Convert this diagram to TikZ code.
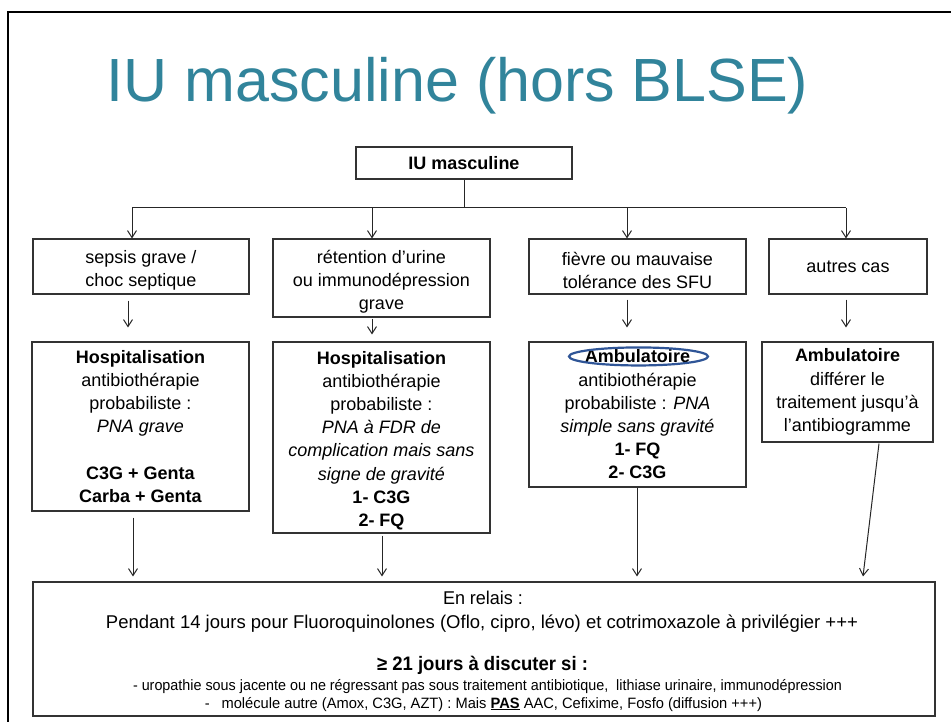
\documentclass[tikz,border=0pt]{standalone}
\usepackage{fontspec}
\setmainfont{Liberation Sans}
\usepackage{graphicx}
\usetikzlibrary{arrows.meta}
\definecolor{titleblue}{RGB}{49,132,155}
\definecolor{ovalblue}{RGB}{47,85,151}
\newcommand{\lowr}[1]{\rule{0pt}{#1}}
\begin{document}
\begin{tikzpicture}[x=1pt,y=-1pt,
  box/.style={draw=black!80,line width=1.1pt,align=center,inner sep=0pt},
  rowtwo/.style={box,font=\fontsize{18}{23}\selectfont},
  rowthree/.style={box,font=\fontsize{18}{23.2}\selectfont},
  conn/.style={draw=black!85,line width=1pt},
  arr/.style={conn,-{Straight Barb[length=7pt,width=9pt,line width=1pt]}},
  txt/.style={anchor=base,inner sep=0pt},
  oval/.style={draw=ovalblue,line width=2.2pt}
]
\useasboundingbox (0,0) rectangle (951,722);
\clip (0,0) rectangle (951,722);
\fill[white] (0,0) rectangle (951,722);
\draw[line width=2.6pt] (8,740) -- (8,12) -- (970,12);

\node[txt,text=titleblue,font=\fontsize{61}{61}\selectfont] (title) at (457.5,102) {IU masculine (hors BLSE)};

\node[box,minimum width=216pt,minimum height=32pt,font=\bfseries\fontsize{18}{22}\selectfont] (T) at (464,163) {IU masculine};

% row 2
\node[rowtwo,minimum width=216pt,minimum height=55pt] (r1) at (141,266.5) {\lowr{21pt}sepsis grave /\\choc septique};
\node[rowtwo,minimum width=217pt,minimum height=78pt] (r2) at (381.5,278) {\lowr{21pt}rétention d’urine\\ou immunodépression\\grave};
\node[rowtwo,minimum width=217pt,minimum height=55pt] (r3) at (637.5,266.5) {\lowr{21pt}fièvre ou mauvaise\\tolérance des SFU};
\node[rowtwo,minimum width=158pt,minimum height=55pt] (r4) at (848,266.5) {autres cas};

% row 3
\node[rowthree,minimum width=217pt,minimum height=169pt] (c1) at (140.5,426.5) {\textbf{Hospitalisation}\\antibiothérapie\\probabiliste :\\\textit{PNA grave}\\[23.2pt]\textbf{C3G + Genta}\\\textbf{Carba + Genta}};
\node[rowthree,minimum width=217pt,minimum height=191pt] (c2) at (381.5,437.5) {\lowr{19pt}\textbf{Hospitalisation}\\antibiothérapie\\probabiliste :\\\textit{PNA à FDR de}\\\textit{complication mais sans}\\\textit{signe de gravité}\\\textbf{1- C3G}\\\textbf{2- FQ}};
\node[rowthree,minimum width=217pt,minimum height=145pt] (c3) at (637.5,414.5) {\textbf{Ambulatoire}\\antibiothérapie\\probabiliste : \textit{PNA}\\\textit{simple sans gravité}\\\textbf{1- FQ}\\\textbf{2- C3G}};
\node[rowthree,minimum width=171pt,minimum height=100pt] (c4) at (847.5,392) {\textbf{Ambulatoire}\\différer le\\traitement jusqu’à\\l’antibiogramme};
\draw[oval] ([xshift=1pt,yshift=-15pt]c3.north) ellipse [x radius=69.5pt, y radius=9pt];

% bottom box
\node[box,minimum width=902pt,minimum height=134pt] (B) at (484,649) {};
\node[txt,font=\fontsize{18.5}{18.5}\selectfont] (l1) at (483,604) {\resizebox{80pt}{\height}{En relais :}};
\node[txt,font=\fontsize{18.5}{18.5}\selectfont] (l2) at (482,628) {\resizebox{752pt}{\height}{Pendant 14 jours pour Fluoroquinolones (Oflo, cipro, lévo) et cotrimoxazole à privilégier +++}};
\node[txt,font=\bfseries\fontsize{19.5}{19.5}\selectfont] (l3) at (482.5,670) {\resizebox{211pt}{\height}{≥ 21 jours à discuter si :}};
\node[txt,font=\fontsize{15}{15}\selectfont] (l4) at (487.5,690) {\resizebox{709pt}{\height}{- uropathie sous jacente ou ne régressant pas sous traitement antibiotique,\ \ lithiase urinaire, immunodépression}};
\node[txt,font=\fontsize{15}{15}\selectfont] (l5) at (483.5,708) {\resizebox{557pt}{\height}{-\hspace{12pt}molécule autre (Amox, C3G, AZT) : Mais \underline{\textbf{PAS}} AAC, Cefixime, Fosfo (diffusion +++)}};

% connectors top
\coordinate (j1) at (132,208);
\coordinate (j2) at (372,208);
\coordinate (j3) at (627,208);
\coordinate (j4) at (846,208);
\draw[conn] (T.south) -- (T.south |- j1);
\draw[conn] (j1) -- (j4);
\draw[arr] (j1) -- (j1 |- r1.north);
\draw[arr] (j2) -- (j2 |- r2.north);
\draw[arr] (j3) -- (j3 |- r3.north);
\draw[arr] (j4) -- (j4 |- r4.north);

% row2 -> row3
\draw[arr] ([xshift=-13pt,yshift=-6pt]r1.south) -- ([xshift=-12.5pt,yshift=14pt]c1.north);
\draw[arr] ([xshift=-9.5pt,yshift=-1pt]r2.south) -- ([xshift=-9.5pt,yshift=7pt]c2.north);
\draw[arr] ([xshift=-10.5pt,yshift=-5pt]r3.south) -- ([xshift=-10.5pt,yshift=14pt]c3.north);
\draw[arr] ([xshift=-2pt,yshift=-5pt]r4.south) -- ([xshift=-1.5pt,yshift=14pt]c4.north);

% row3 -> bottom
\draw[arr] ([xshift=-7.5pt,yshift=-6pt]c1.south) -- ([xshift=-351pt,yshift=5pt]B.north);
\draw[arr] ([xshift=0.5pt,yshift=-2pt]c2.south) -- ([xshift=-102pt,yshift=5pt]B.north);
\draw[arr] ([xshift=-0.5pt]c3.south) -- ([xshift=153pt,yshift=5pt]B.north);
\draw[arr] ([xshift=31.5pt,yshift=-1pt]c4.south) -- ([xshift=379pt,yshift=5pt]B.north);
\end{tikzpicture}
\end{document}
